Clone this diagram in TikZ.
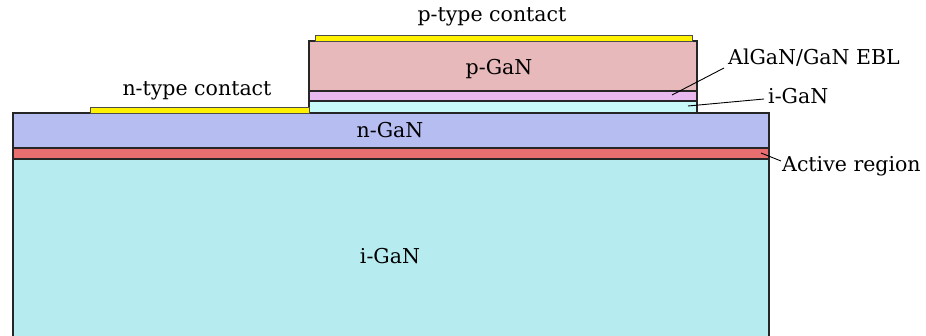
\documentclass[tikz,border=0pt]{standalone}
\usepackage{fontspec}
\setmainfont{DejaVu Serif}
\begin{document}
\begin{tikzpicture}[x=1pt,y=-1pt,
  layer/.style={draw=black!85,line width=1.2pt},
  contact/.style={draw=black!70,fill=yellow,line width=0.9pt},
  lbl/.style={font=\fontsize{20.5}{24}\selectfont,inner sep=0pt},
  leader/.style={draw=black,line width=0.9pt}]
\useasboundingbox (0,0) rectangle (926,336);
% substrate
\fill[fill={rgb,255:red,182;green,236;blue,239}] (13,159) rectangle (769,337);
\draw[layer] (13,340) -- (13,159) -- (769,159) -- (769,340);
\draw[layer,fill={rgb,255:red,232;green,110;blue,112}] (13,148) rectangle (769,159);
\draw[layer,fill={rgb,255:red,182;green,189;blue,240}] (13,113) rectangle (769,148);
% mesa
\draw[layer,fill={rgb,255:red,200;green,250;blue,250}] (309,101) rectangle (697,113);
\draw[layer,fill={rgb,255:red,232;green,184;blue,238}] (309,91) rectangle (697,101);
\draw[layer,fill={rgb,255:red,232;green,185;blue,187}] (309,41) rectangle (697,91);
% contacts
\draw[contact] (315,35) rectangle (692,41);
\draw[contact] (90,107.5) rectangle (309,113);
% labels
\node[lbl] (pc) at (492,17) {p-type contact};
\node[lbl] (pg) at (499,69) {p-GaN};
\node[lbl] (nc) at (197,91) {n-type contact};
\node[lbl] (ng) at (390,130) {n-GaN};
\node[lbl] (ig) at (390,256) {i-GaN};
\node[lbl,anchor=west] (ebl) at (728,58) {AlGaN/GaN EBL};
\node[lbl,anchor=west] (ig2) at (768,96) {i-GaN};
\node[lbl,anchor=west] (act) at (782,166) {Active region};
\coordinate (e1) at (672,95);
\coordinate (e2) at (724,68);
\coordinate (i1) at (688,106);
\coordinate (i2) at (764,99);
\coordinate (a1) at (761,153);
\coordinate (a2) at (781,161);
\draw[leader] (e1) -- (e2);
\draw[leader] (i1) -- (i2);
\draw[leader] (a1) -- (a2);
\end{tikzpicture}
\end{document}
